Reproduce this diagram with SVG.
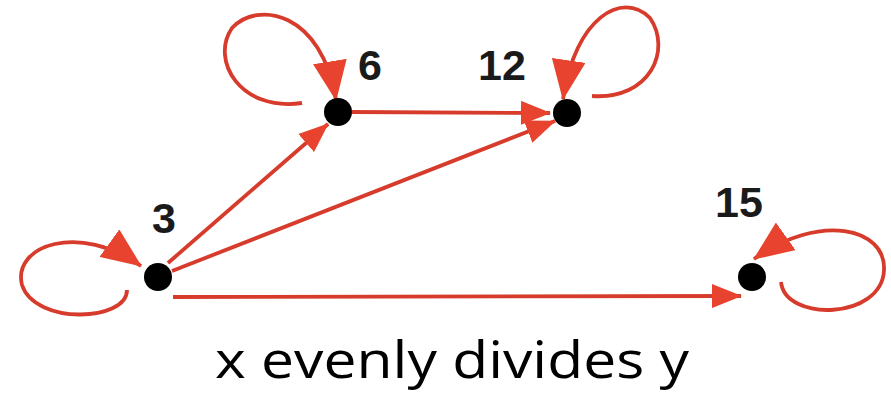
<svg xmlns="http://www.w3.org/2000/svg" width="891" height="401" viewBox="0 0 891 401">
<style>
.e{fill:none;stroke:#d63b2b;stroke-width:3.8;}
.n{fill:#000;}
.l{font-family:"Liberation Sans",Arial,sans-serif;font-weight:bold;font-size:43px;fill:#1a1a1a;text-anchor:middle;}
.t{font-family:"Open Sans","DejaVu Sans",sans-serif;font-size:52px;fill:#000;text-anchor:middle;}
</style>
<defs>
<marker id="a" markerUnits="userSpaceOnUse" markerWidth="30" markerHeight="24" refX="29" refY="12" orient="auto" viewBox="0 0 30 24">
<path d="M0,0 L30,12 L0,24 Z" fill="#e8432f"/>
</marker>
<marker id="b" markerUnits="userSpaceOnUse" markerWidth="40" markerHeight="34" refX="39" refY="17" orient="auto" viewBox="0 0 40 34">
<path d="M0,0 L40,17 L0,34 Z" fill="#e8432f"/>
</marker>
</defs>
<g id="connectors">
<path class="e" d="M168,263 L328,124" marker-end="url(#a)"/>
<path class="e" d="M172,271 L555,121" marker-end="url(#a)"/>
<path class="e" d="M173,297 L741,296" marker-end="url(#a)"/>
<path class="e" d="M352,112 L550,113" marker-end="url(#a)"/>
<path class="e" d="M127,290 C127,322 35,325 22,285 C12,245 80,222 141,266" marker-end="url(#b)"/>
<path class="e" d="M302,103 C240,112 210,60 232,28 C258,0 322,12 336,100" marker-end="url(#b)"/>
<path class="e" d="M592,96 C650,100 672,50 650,18 C622,-10 575,18 563,99" marker-end="url(#b)"/>
<path class="e" d="M781,282 C785,322 882,320 884,270 C886,228 820,212 754,259" marker-end="url(#b)"/>
</g>
<g id="node-3"><circle class="n" cx="158" cy="277" r="14"/><text class="l" x="164" y="233">3</text></g>
<g id="node-6"><circle class="n" cx="338" cy="112" r="14"/><text class="l" x="370" y="80">6</text></g>
<g id="node-12"><circle class="n" cx="567" cy="113" r="14"/><text class="l" x="502" y="80">12</text></g>
<g id="node-15"><circle class="n" cx="752" cy="277" r="14"/><text class="l" x="739" y="217">15</text></g>
<text class="t" x="452" y="378" textLength="474" lengthAdjust="spacingAndGlyphs">x evenly divides y</text>
</svg>
